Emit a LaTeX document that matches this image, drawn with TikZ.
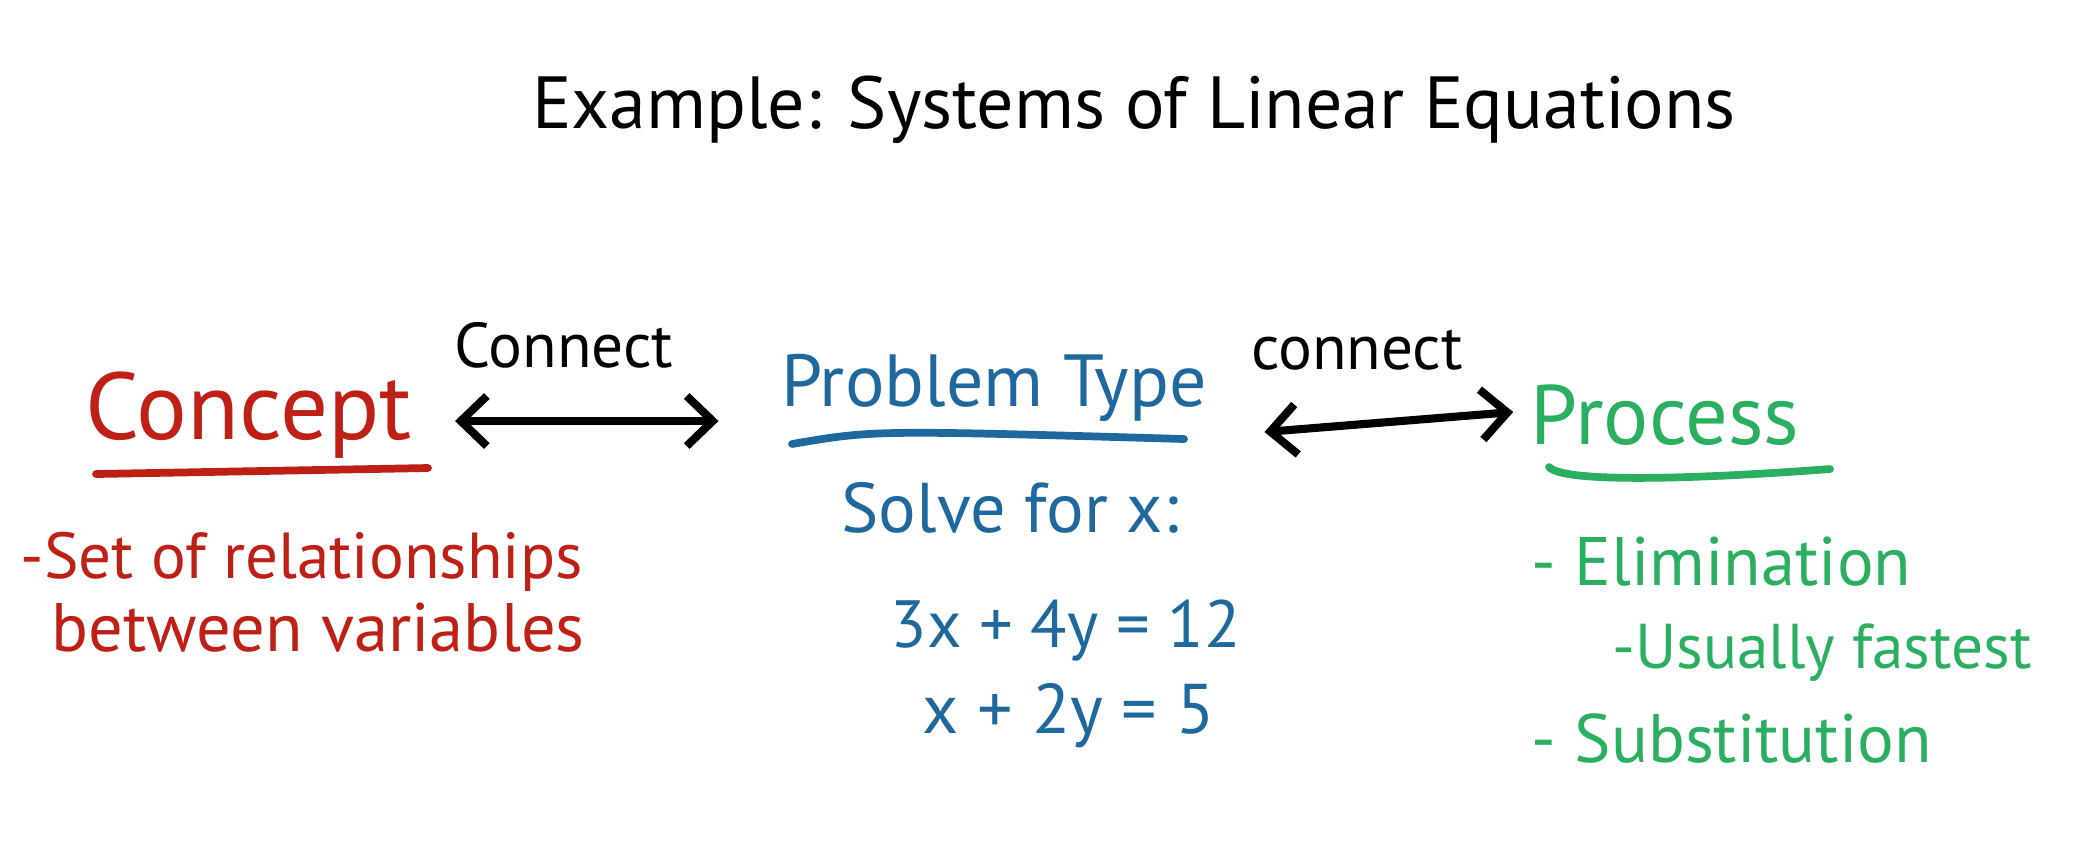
\documentclass[tikz,border=0pt]{standalone}
\usepackage{fontspec}
\setmainfont{PT Sans}
\usetikzlibrary{positioning}
\usetikzlibrary{calc}
\usetikzlibrary{arrows.meta}
\definecolor{inkred}{RGB}{190,32,22}
\definecolor{inkblue}{RGB}{31,104,158}
\definecolor{inkgreen}{RGB}{42,174,96}

\begin{document}
\begin{tikzpicture}[x=0.01cm, y=-0.01cm,
  heading/.style={inner sep=2pt, font=\fontsize{21}{25}\selectfont},
  note/.style={inner sep=0pt, anchor=west, font=\fontsize{18.5}{22}\selectfont},
  link/.style={line width=2.3pt, line cap=round, {Straight Barb[length=0.26cm, width=0.5cm]}-{Straight Barb[length=0.26cm, width=0.5cm]}},
  rule/.style={line width=2.2pt, line cap=round}]

\useasboundingbox (0,0) rectangle (2097,850);

%---------------------------------------
% Title
%---------------------------------------
\node[font=\fontsize{21}{25}\selectfont] (title) at (1134,110) {Example: Systems of Linear Equations};

%---------------------------------------
% Three headings
%---------------------------------------
\node[heading, inkred, font=\fontsize{27}{30}\selectfont] (concept) at (249,415) {Concept};
\node[heading, inkblue] (problem) at (994,388) {Problem Type};
\node[heading, inkgreen, font=\fontsize{24}{28}\selectfont] (process) at (1665,415) {Process};

% Underlines
\draw[rule, inkred]   ($(concept.center)+(-153,59)$) -- ($(concept.center)+(179,53)$);
\draw[rule, inkblue]  ($(problem.center)+(-202,56)$) .. controls ($(problem.center)+(-120,42)$) .. ($(problem.center)+(190,51)$);
\draw[rule, inkgreen] ($(process.center)+(-116,52)$) .. controls ($(process.center)+(-100,70)$) and ($(process.center)+(60,62)$) .. ($(process.center)+(165,54)$);

%---------------------------------------
% Connectors
%---------------------------------------
\draw[link] ($(concept.center)+(206,6)$) -- ($(concept.center -| problem.west)+(-55,6)$);
\draw[link] ($(problem.east)+(50,44)$) -- ($(process.west)+(-10,-3)$);

\node[font=\fontsize{18}{22}\selectfont] (connectL) at (564,345) {Connect};
\node[font=\fontsize{18}{22}\selectfont] (connectR) at (1357,350) {connect};

%---------------------------------------
% Concept notes (red)
%---------------------------------------
\node[note, inkred] (setof) at (20,562) {-Set of relationships};
\node[note, inkred, font=\fontsize{19.5}{23}\selectfont] (between) at (51,628) {between variables};

%---------------------------------------
% Problem type notes (blue)
%---------------------------------------
\node[font=\fontsize{20}{24}\selectfont, inkblue] (solve) at (1010,508) {Solve for x:};
\node[note, inkblue, font=\fontsize{19}{23}\selectfont] (eqA) at (890,631) {3x + 4y = 12};
\node[note, inkblue, font=\fontsize{20}{24}\selectfont] (eqB) at (922,716) {x + 2y = 5};

%---------------------------------------
% Process notes (green)
%---------------------------------------
\node[note, inkgreen, font=\fontsize{19.5}{23}\selectfont] (elim) at (1531,562) {- Elimination};
\node[note, inkgreen, font=\fontsize{18}{22}\selectfont] (fast) at (1612,653) {-Usually fastest};
\node[note, inkgreen, font=\fontsize{19.5}{23}\selectfont] (subst) at (1531,738) {- Substitution};

\end{tikzpicture}
\end{document}
